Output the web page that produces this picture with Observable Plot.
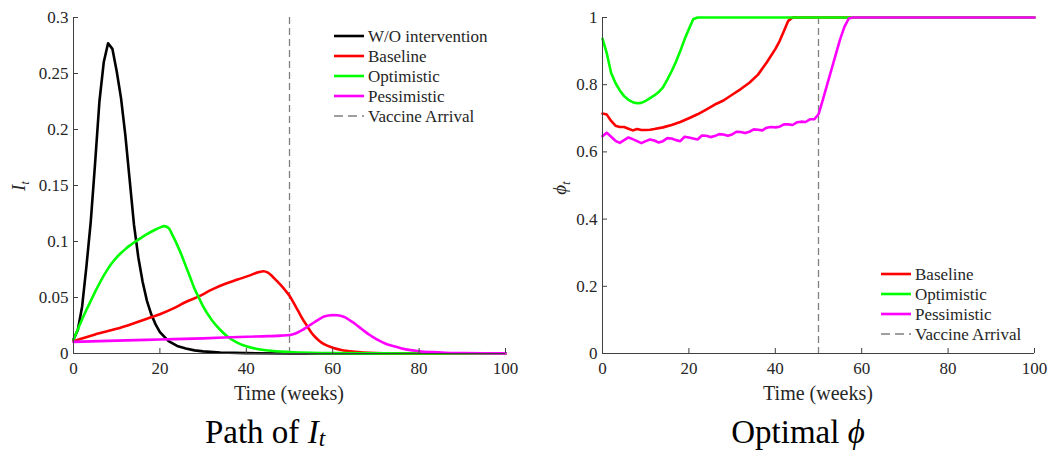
<!DOCTYPE html>
<html><head><meta charset="utf-8">
<script src="https://cdn.jsdelivr.net/npm/d3@7"></script>
<script src="https://cdn.jsdelivr.net/npm/@observablehq/plot@0.6"></script>
<style>
body{margin:0;background:#fff;}
#wrap{position:relative;width:1048px;height:452px;overflow:hidden;font-family:"Liberation Serif","Times New Roman",Times,"DejaVu Serif",serif;}
.panel{position:absolute;top:0;}
.ov{position:absolute;white-space:nowrap;color:#262626;line-height:1.15;}
.leg{position:absolute;font-size:17px;color:#262626;line-height:1;}
.leg div{height:20px;display:flex;align-items:center;white-space:nowrap;}
.leg svg{margin-right:4px;}
svg text{font-family:"Liberation Serif","Times New Roman",Times,"DejaVu Serif",serif;}
</style></head><body><div id="wrap"></div>
<script>
// ---------- data ----------
const xTicks = [0, 20, 40, 60, 80, 100];
const xTickLabels = ["0", "20", "40", "60", "80", "100"];
const yTicksI = [0, 0.05, 0.1, 0.15, 0.2, 0.25, 0.3];
const yTickLabelsI = ["0", "0.05", "0.1", "0.15", "0.2", "0.25", "0.3"];
const yTicksPhi = [0, 0.2, 0.4, 0.6, 0.8, 1];
const yTickLabelsPhi = ["0", "0.2", "0.4", "0.6", "0.8", "1"];
const vaccineWeek = 50;

// Path of I_t
const woT = [0,1,2,3,4,5,6,7,8,9,10,11,12,13,14,15,16,17,18,19,20,22,24,26,28,30,34,40,50,60,100];
const woI = [0.0125,0.021,0.042,0.078,0.118,0.17,0.225,0.26,0.277,0.272,0.252,0.228,0.195,0.155,0.115,0.086,0.064,0.047,0.035,0.026,0.019,0.011,0.0068,0.0044,0.0028,0.0019,0.0009,0.0003,0.00005,0,0];

const baseT = [0,5,10,14,17,20,23,26,29,32,35,38,41,43,44,45,46,47,48,49,50,51,52,53,54,55,56,57,58,60,62,65,70,75,85,100];
const baseI = [0.011,0.017,0.022,0.027,0.031,0.035,0.04,0.046,0.051,0.057,0.062,0.066,0.07,0.0728,0.0734,0.0722,0.069,0.065,0.061,0.0565,0.0515,0.045,0.038,0.031,0.025,0.019,0.0145,0.011,0.0083,0.0052,0.0032,0.0016,0.0005,0.0002,0,0];

const optT = [0,1,2,3,4,5,6,7,8,9,10,11,12,13,14,15,16,17,18,19,20,21,22,23,24,25,26,27,28,29,30,32,34,36,38,40,42,45,50,55,60,70,100];
const optI = [0.0125,0.0215,0.0305,0.039,0.047,0.055,0.0625,0.0695,0.0758,0.0812,0.0858,0.0897,0.0932,0.0963,0.0991,0.1017,0.1042,0.1065,0.1087,0.1107,0.1124,0.1137,0.112,0.105,0.097,0.088,0.078,0.068,0.058,0.05,0.042,0.03,0.021,0.014,0.0095,0.0065,0.0045,0.0027,0.0013,0.0006,0.0003,0.0001,0];

const pesT = [0,10,20,30,40,45,48,50,51,52,53,54,55,56,57,58,59,60,61,62,63,64,65,66,67,68,69,70,71,72,74,76,78,80,83,86,90,95,100];
const pesI = [0.0104,0.0115,0.0125,0.0135,0.015,0.0155,0.016,0.0165,0.0175,0.019,0.021,0.0235,0.026,0.0285,0.031,0.033,0.034,0.0343,0.0342,0.0335,0.032,0.0295,0.027,0.024,0.021,0.018,0.0155,0.013,0.011,0.0092,0.0066,0.0045,0.003,0.002,0.0012,0.0007,0.0004,0.0002,0.0001];

// Optimal phi
const basePhiT = [0,1,2,3,4,5,6,7,8,9,10,11,12,14,16,18,20,22,24,26,28,30,32,34,36,38,40,41,42,43,44,100];
const basePhi = [0.714,0.711,0.692,0.678,0.674,0.674,0.669,0.664,0.668,0.665,0.665,0.666,0.668,0.673,0.68,0.689,0.7,0.712,0.726,0.741,0.753,0.77,0.787,0.806,0.83,0.866,0.906,0.93,0.96,0.99,1,1];

const optPhiT = [0,1,2,3,4,5,6,7,8,9,10,11,12,13,14,15,16,17,18,19,20,21,22,100];
const optPhi = [0.937,0.893,0.835,0.805,0.783,0.766,0.755,0.748,0.745,0.746,0.752,0.76,0.768,0.778,0.792,0.815,0.84,0.868,0.9,0.935,0.966,0.995,1,1];

const pesPhiT = [0,1,2,3,4,5,6,7,8,9,10,11,12,13,14,15,16,17,18,19,20,21,22,23,24,25,26,27,28,29,30,31,32,33,34,35,36,37,38,39,40,41,42,43,44,45,46,47,48,49,50,51,52,53,54,55,56,57,58,100];
const pesPhi = [0.647,0.657,0.645,0.633,0.627,0.635,0.643,0.638,0.632,0.626,0.632,0.637,0.634,0.628,0.632,0.641,0.64,0.635,0.632,0.645,0.643,0.64,0.637,0.649,0.648,0.644,0.647,0.653,0.652,0.648,0.652,0.66,0.659,0.656,0.66,0.667,0.666,0.664,0.672,0.674,0.673,0.675,0.682,0.682,0.68,0.688,0.69,0.689,0.697,0.697,0.712,0.755,0.8,0.845,0.89,0.935,0.972,0.997,1,1];

const seriesI = [
  {name: "W/O intervention", t: woT, v: woI, color: "#000000", curve: "linear"},
  {name: "Baseline", t: baseT, v: baseI, color: "#ff0000", curve: "monotone-x"},
  {name: "Optimistic", t: optT, v: optI, color: "#00ff00", curve: "monotone-x"},
  {name: "Pessimistic", t: pesT, v: pesI, color: "#ff00ff", curve: "monotone-x"}
];
const seriesPhi = [
  {name: "Baseline", t: basePhiT, v: basePhi, color: "#ff0000", curve: "linear"},
  {name: "Optimistic", t: optPhiT, v: optPhi, color: "#00ff00", curve: "linear"},
  {name: "Pessimistic", t: pesPhiT, v: pesPhi, color: "#ff00ff", curve: "linear"}
];

// ---------- drawing ----------
const wrap = document.getElementById("wrap");
const axisColor = "#404040";
const H = 452, MT = 17, MB = 99;
const FONT = "'Liberation Serif', 'Times New Roman', Times, 'DejaVu Serif', serif";

function rows(s) { return s.t.map((t, i) => ({t, v: s.v[i]})); }

function panel({left, width, ml, mr, yDomain, yTicks, yLabels, series}) {
  const frameW = width - ml - mr, frameH = H - MT - MB;
  const marks = [
    Plot.ruleX([vaccineWeek], {stroke: "#808080", strokeWidth: 1.3, strokeDasharray: "7,4"}),
    ...series.map(s => Plot.line(rows(s), {x: "t", y: "v", stroke: s.color, strokeWidth: 2.6, strokeLinejoin: "round", curve: s.curve})),
    Plot.ruleY([yDomain[0]], {stroke: axisColor}),
    Plot.ruleX([0], {stroke: axisColor}),
    Plot.tickX(xTicks, {x: d => d, stroke: axisColor, insetTop: frameH - 5}),
    Plot.tickY(yTicks, {y: d => d, stroke: axisColor, insetRight: frameW - 5}),
    Plot.axisX({ticks: xTicks, tickSize: 0, tickPadding: 8, tickFormat: d => xTickLabels[xTicks.indexOf(d)], label: null, fontFamily: FONT}),
    Plot.axisY({ticks: yTicks, tickSize: 0, tickPadding: 5, tickFormat: d => yLabels[yTicks.indexOf(d)], label: null, fontFamily: FONT})
  ];
  const svg = Plot.plot({
    width, height: H,
    marginLeft: ml, marginRight: mr, marginTop: MT, marginBottom: MB,
    x: {domain: [0, 100]},
    y: {domain: yDomain},
    style: {fontFamily: FONT, fontSize: "17px", color: "#262626", background: "transparent", overflow: "visible"},
    marks
  });
  svg.classList.add("panel");
  svg.style.left = left + "px";
  wrap.appendChild(svg);
}

panel({left: 0, width: 524, ml: 73, mr: 19, yDomain: [0, 0.3], yTicks: yTicksI, yLabels: yTickLabelsI, series: seriesI});
panel({left: 524, width: 524, ml: 78, mr: 14, yDomain: [0, 1], yTicks: yTicksPhi, yLabels: yTickLabelsPhi, series: seriesPhi});

function ov(html, x, y, style) {
  const d = document.createElement("div");
  d.className = "ov";
  d.innerHTML = html;
  d.style.left = x + "px";
  d.style.top = y + "px";
  Object.assign(d.style, style || {});
  wrap.appendChild(d);
  return d;
}
// x labels
ov("Time (weeks)", 289, 393, {fontSize: "20px", transform: "translate(-50%,-50%)"});
ov("Time (weeks)", 818, 393, {fontSize: "20px", transform: "translate(-50%,-50%)"});
// y labels
ov("<i>I</i><sub style='font-size:70%;font-style:italic;vertical-align:-0.25em'>t</sub>", 20, 186, {fontSize: "19px", transform: "translate(-50%,-50%) rotate(-90deg)"});
ov("<i>ϕ</i><sub style='font-size:70%;font-style:italic;vertical-align:-0.25em'>t</sub>", 561, 188, {fontSize: "19px", transform: "translate(-50%,-50%) rotate(-90deg)"});
// titles
ov("Path of <i>I</i><sub style='font-size:70%;font-style:italic;vertical-align:-0.15em;line-height:1'>t</sub>", 265, 433, {fontSize: "33px", color: "#000", transform: "translate(-50%,-50%)"});
ov("Optimal <i>ϕ</i>", 798, 433, {fontSize: "33px", color: "#000", transform: "translate(-50%,-50%)"});

// legends
function legend(x, y, items) {
  const d = document.createElement("div");
  d.className = "leg";
  d.style.left = x + "px";
  d.style.top = y + "px";
  for (const it of items) {
    const r = document.createElement("div");
    const dash = it.dashed ? "stroke-dasharray='9,5'" : "";
    const sw = it.dashed ? 1.3 : 2.6;
    r.innerHTML = `<svg width="30" height="6"><line x1="0" y1="3" x2="30" y2="3" stroke="${it.color}" stroke-width="${sw}" ${dash}/></svg><span>${it.name}</span>`;
    d.appendChild(r);
  }
  wrap.appendChild(d);
}
legend(334, 26, [...seriesI.map(s => ({name: s.name, color: s.color})), {name: "Vaccine Arrival", color: "#808080", dashed: true}]);
legend(881, 264, [...seriesPhi.map(s => ({name: s.name, color: s.color})), {name: "Vaccine Arrival", color: "#808080", dashed: true}]);
</script></body></html>
